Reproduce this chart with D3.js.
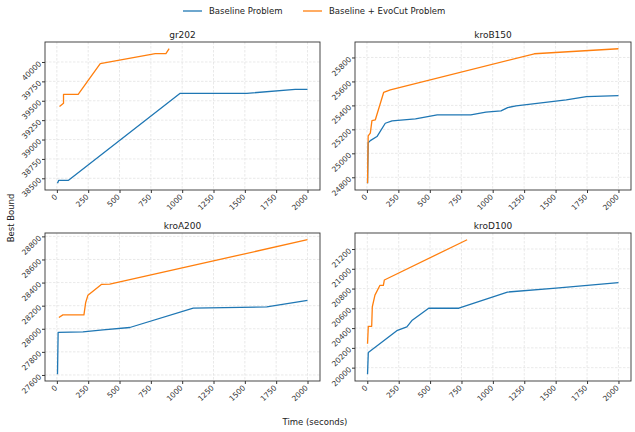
<!DOCTYPE html>
<html>
<head>
<meta charset="utf-8">
<script src="https://cdn.jsdelivr.net/npm/d3@7"></script>
<style>
  body { margin: 0; background: #fff; }
  svg { font-family: "DejaVu Sans", sans-serif; }
</style>
</head>
<body>
<svg id="chart" width="635" height="432"></svg>
<script>
// data: [time (s), best bound]
const seriesNames = ["Baseline Problem", "Baseline + EvoCut Problem"];
const seriesColors = ["#1f77b4", "#ff7f0e"];
const xTicks = [0, 250, 500, 750, 1000, 1250, 1500, 1750, 2000];

const gr202Base = [[5, 38436], [15, 38474], [93, 38474], [984, 39596], [1516, 39596], [1902, 39647], [2000, 39647]];
const gr202Evo = [[21, 39425], [53, 39468], [53, 39583], [170, 39583], [346, 39980], [785, 40107], [870, 40107], [896, 40171]];
const gr202Ticks = [38500, 38750, 39000, 39250, 39500, 39750, 40000];

const kroB150Base = [[5, 24750], [10, 25089], [27, 25106], [80, 25140], [146, 25251], [200, 25271], [386, 25287], [559, 25321], [826, 25321], [946, 25343], [1066, 25354], [1119, 25382], [1186, 25396], [1585, 25446], [1745, 25474], [2000, 25482]];
const kroB150Evo = [[5, 24750], [10, 25145], [27, 25168], [40, 25273], [67, 25280], [133, 25508], [186, 25530], [1331, 25831], [2000, 25873]];
const kroB150Ticks = [24800, 25000, 25200, 25400, 25600, 25800];

const kroA200Base = [[5, 27606], [10, 27968], [208, 27973], [368, 27990], [582, 28011], [1088, 28178], [1675, 28190], [2000, 28245]];
const kroA200Evo = [[16, 28098], [48, 28120], [216, 28120], [230, 28228], [248, 28291], [355, 28384], [422, 28386], [2000, 28771]];
const kroA200Ticks = [27600, 27800, 28000, 28200, 28400, 28600, 28800];

const kroD100Base = [[2, 19933], [8, 20153], [235, 20374], [315, 20412], [355, 20476], [489, 20601], [729, 20601], [1116, 20765], [1503, 20805], [2000, 20860]];
const kroD100Evo = [[2, 20242], [8, 20418], [35, 20418], [40, 20616], [61, 20734], [101, 20833], [128, 20833], [136, 20887], [795, 21294]];
const kroD100Ticks = [20000, 20200, 20400, 20600, 20800, 21000, 21200];

const panels = [
  { title: "gr202", series: [gr202Base, gr202Evo], ticks: gr202Ticks, box: [45, 42, 320, 190] },
  { title: "kroB150", series: [kroB150Base, kroB150Evo], ticks: kroB150Ticks, box: [355, 42, 631, 190] },
  { title: "kroA200", series: [kroA200Base, kroA200Evo], ticks: kroA200Ticks, box: [45, 233, 320, 381] },
  { title: "kroD100", series: [kroD100Base, kroD100Evo], ticks: kroD100Ticks, box: [355, 233, 631, 381] }
];

const svg = d3.select("#chart");

// matplotlib style 5% padding
function padded(ext) {
  var d = ext[1] - ext[0];
  return [ext[0] - d * 0.05, ext[1] + d * 0.05];
}

panels.forEach(function (p) {
  var all = p.series[0].concat(p.series[1]);
  var x = d3.scaleLinear()
    .domain(padded(d3.extent(all, function (d) { return d[0]; })))
    .range([p.box[0], p.box[2]]);
  var y = d3.scaleLinear()
    .domain(padded(d3.extent(all, function (d) { return d[1]; })))
    .range([p.box[3], p.box[1]]);

  var g = svg.append("g");

  // grid
  g.selectAll(".gx").data(xTicks).enter().append("line")
    .attr("x1", function (d) { return x(d); }).attr("x2", function (d) { return x(d); })
    .attr("y1", p.box[1]).attr("y2", p.box[3])
    .attr("stroke", "#e0e0e0").attr("stroke-width", 0.7).attr("stroke-dasharray", "2.5,1.5");
  g.selectAll(".gy").data(p.ticks).enter().append("line")
    .attr("y1", function (d) { return y(d); }).attr("y2", function (d) { return y(d); })
    .attr("x1", p.box[0]).attr("x2", p.box[2])
    .attr("stroke", "#e0e0e0").attr("stroke-width", 0.7).attr("stroke-dasharray", "2.5,1.5");

  // lines
  var line = d3.line().x(function (d) { return x(d[0]); }).y(function (d) { return y(d[1]); });
  p.series.forEach(function (s, i) {
    g.append("path").datum(s)
      .attr("d", line)
      .attr("fill", "none")
      .attr("stroke", seriesColors[i])
      .attr("stroke-width", 1.3)
      .attr("stroke-linejoin", "round");
  });

  // axes
  var xAxis = g.append("g")
    .attr("transform", "translate(0," + p.box[3] + ")")
    .call(d3.axisBottom(x).tickValues(xTicks).tickSize(3).tickFormat(d3.format("d")));
  xAxis.selectAll("text")
    .attr("text-anchor", "end")
    .attr("dy", "0.35em")
    .attr("transform", "translate(0,4) rotate(-45)")
    .attr("y", 0).attr("x", -2);

  var yAxis = g.append("g")
    .attr("transform", "translate(" + p.box[0] + ",0)")
    .call(d3.axisLeft(y).tickValues(p.ticks).tickSize(3).tickFormat(d3.format("d")));
  yAxis.selectAll("text")
    .attr("text-anchor", "end")
    .attr("x", 0).attr("dy", "0.35em")
    .attr("transform", "translate(-5,0) rotate(-45)");

  [xAxis, yAxis].forEach(function (a) {
    a.select(".domain").remove();
    a.selectAll("line").attr("stroke", "#333");
    a.selectAll("text").attr("fill", "#333").style("font-size", "7.5px")
      .style("font-family", "DejaVu Sans");
  });

  g.append("rect")
    .attr("x", p.box[0]).attr("y", p.box[1])
    .attr("width", p.box[2] - p.box[0]).attr("height", p.box[3] - p.box[1])
    .attr("fill", "none").attr("stroke", "#333").attr("stroke-width", 0.9);

  g.append("text")
    .attr("x", (p.box[0] + p.box[2]) / 2).attr("y", p.box[1] - 4)
    .attr("text-anchor", "middle")
    .style("font-size", "9px").attr("fill", "#222")
    .text(p.title);
});

// legend
var legendX = [183, 303];
seriesNames.forEach(function (name, i) {
  svg.append("line")
    .attr("x1", legendX[i]).attr("x2", legendX[i] + 19)
    .attr("y1", 11).attr("y2", 11)
    .attr("stroke", seriesColors[i]).attr("stroke-width", 1.3);
  svg.append("text")
    .attr("x", legendX[i] + 26).attr("y", 11).attr("dy", "0.35em")
    .style("font-size", "8.5px").attr("fill", "#222")
    .text(name);
});

svg.append("text")
  .attr("transform", "translate(11,218) rotate(-90)")
  .attr("text-anchor", "middle").attr("dy", "0.35em")
  .style("font-size", "8.5px").attr("fill", "#222")
  .text("Best Bound");

svg.append("text")
  .attr("x", 315).attr("y", 422)
  .attr("text-anchor", "middle").attr("dy", "0.35em")
  .style("font-size", "8.5px").attr("fill", "#222")
  .text("Time (seconds)");
</script>
</body>
</html>
